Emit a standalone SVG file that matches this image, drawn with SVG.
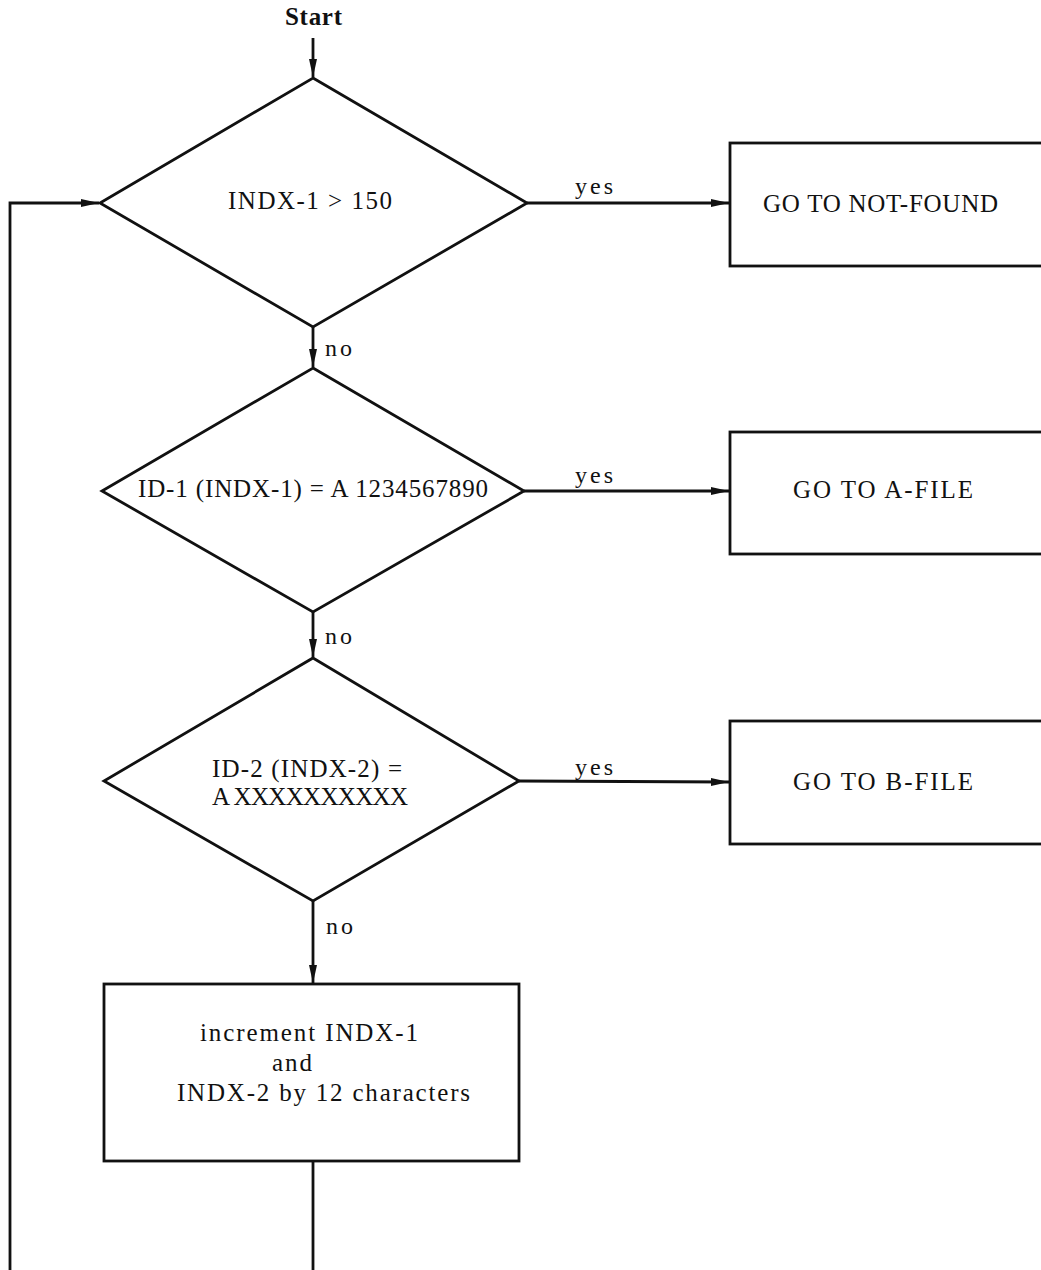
<svg xmlns="http://www.w3.org/2000/svg" width="1041" height="1270" viewBox="0 0 1041 1270">
<style>
.shape{fill:none;stroke:#111;stroke-width:2.8}
.line{fill:none;stroke:#111;stroke-width:2.8}
text{font-family:"Liberation Serif","Times New Roman",serif;font-size:25px;fill:#111}
.lbl{font-size:24px}
.bold{font-weight:bold}
</style>
<defs>
<marker id="arr" viewBox="0 0 18 10" refX="18" refY="5" markerWidth="18" markerHeight="10" markerUnits="userSpaceOnUse" orient="auto">
<path d="M0,1 L18,5 L0,9 Z" fill="#111"/>
</marker>
</defs>
<rect width="1041" height="1270" fill="#fff"/>
<g id="start"><text class="bold" x="285" y="25" textLength="57">Start</text></g>
<g id="d1"><polygon class="shape" points="313,78 527,203 313,327 100,203"/><text x="228" y="209" textLength="164">INDX-1 &gt; 150</text></g>
<g id="b1"><rect class="shape" x="730" y="143" width="330" height="123"/><text x="763" y="212" textLength="235">GO TO NOT-FOUND</text></g>
<g id="d2"><polygon class="shape" points="313,368 524,491 313,612 102,491"/><text x="138" y="497" textLength="350">ID-1 (INDX-1) = A 1234567890</text></g>
<g id="b2"><rect class="shape" x="730" y="432" width="330" height="122"/><text x="793" y="498" textLength="180">GO TO A-FILE</text></g>
<g id="d3"><polygon class="shape" points="313,658 519,781 313,901 104,781"/><text x="212" y="777" textLength="190">ID-2 (INDX-2) =</text><text x="212" y="805" textLength="196">A XXXXXXXXXX</text></g>
<g id="b3"><rect class="shape" x="730" y="721" width="330" height="123"/><text x="793" y="790" textLength="180">GO TO B-FILE</text></g>
<g id="b4"><rect class="shape" x="104" y="984" width="415" height="177"/><text x="200" y="1041" textLength="218">increment INDX-1</text><text x="272" y="1071" textLength="40">and</text><text x="177" y="1101" textLength="293">INDX-2 by 12 characters</text></g>
<g id="connectors">
<line class="line" x1="313" y1="38" x2="313" y2="77" marker-end="url(#arr)"/>
<line class="line" x1="527" y1="203" x2="729" y2="203" marker-end="url(#arr)"/>
<text class="lbl" x="575" y="194" textLength="38">yes</text>
<line class="line" x1="313" y1="327" x2="313" y2="367" marker-end="url(#arr)"/>
<text class="lbl" x="325" y="356" textLength="27">no</text>
<line class="line" x1="524" y1="491" x2="729" y2="491" marker-end="url(#arr)"/>
<text class="lbl" x="575" y="483" textLength="38">yes</text>
<line class="line" x1="313" y1="612" x2="313" y2="657" marker-end="url(#arr)"/>
<text class="lbl" x="325" y="644" textLength="27">no</text>
<line class="line" x1="519" y1="781" x2="729" y2="782" marker-end="url(#arr)"/>
<text class="lbl" x="575" y="775" textLength="38">yes</text>
<line class="line" x1="313" y1="901" x2="313" y2="983" marker-end="url(#arr)"/>
<text class="lbl" x="326" y="934" textLength="27">no</text>
<line class="line" x1="313" y1="1161" x2="313" y2="1272"/>
<polyline class="line" points="10,1272 10,203 99,203" marker-end="url(#arr)"/>
</g>
</svg>
